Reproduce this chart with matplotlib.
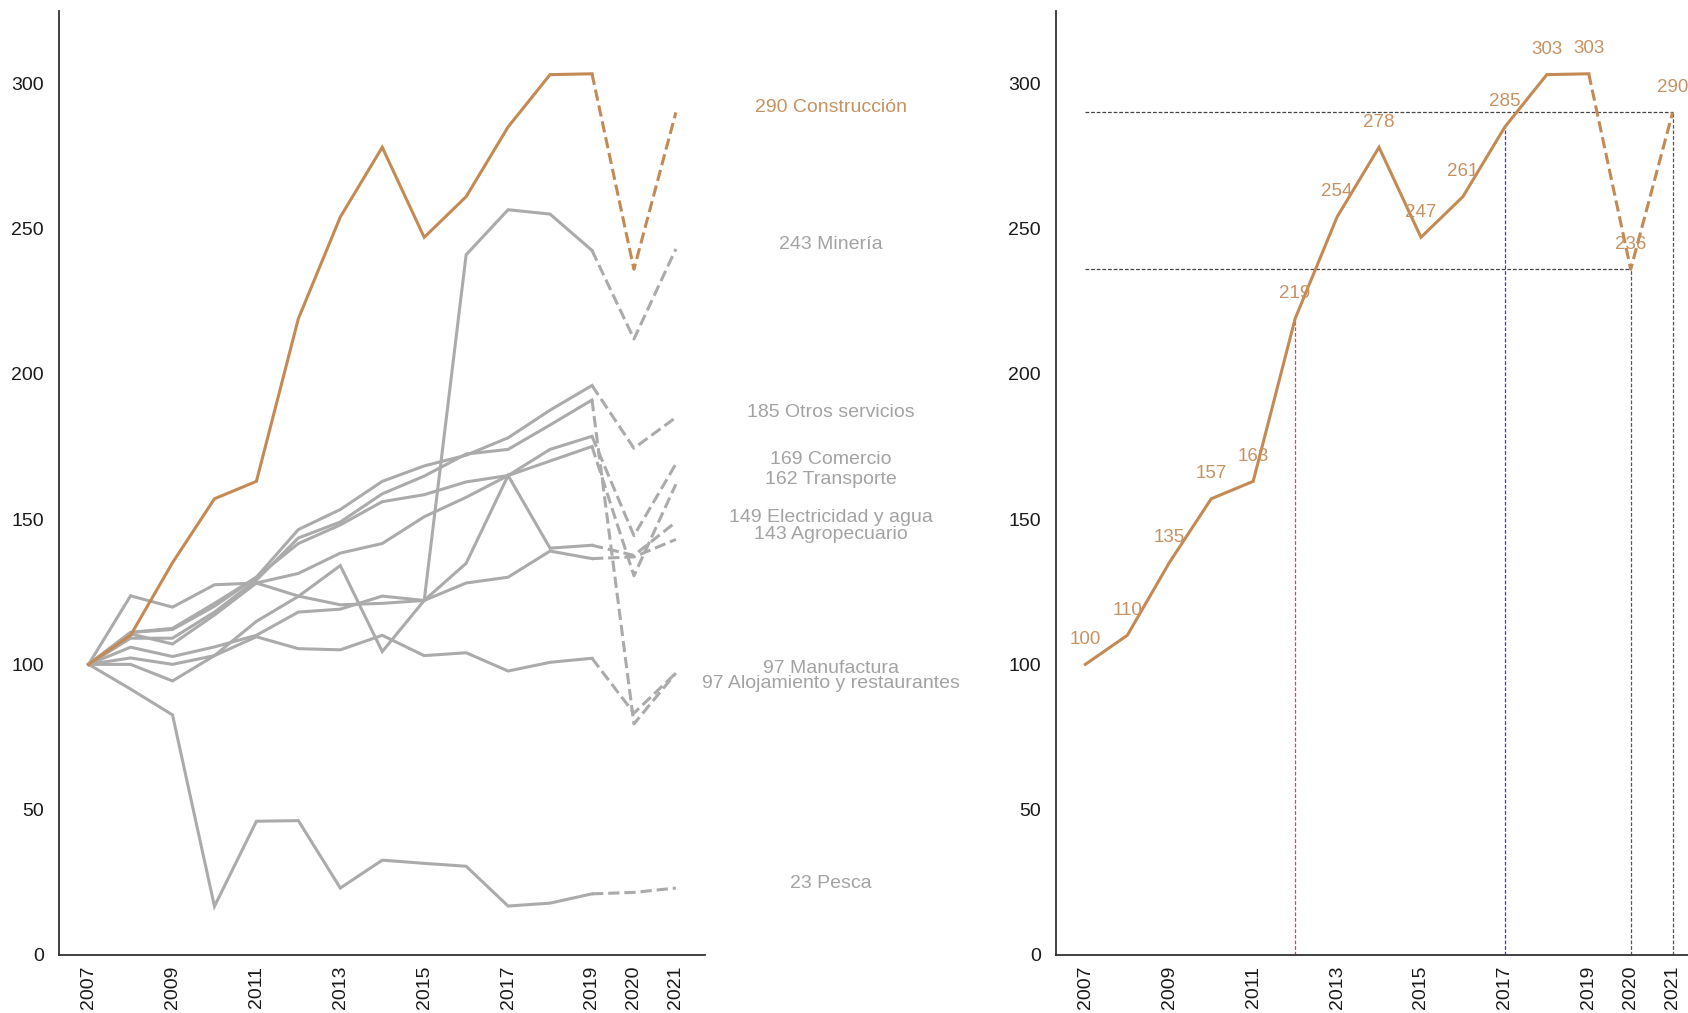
import matplotlib
matplotlib.use("Agg")
import matplotlib.pyplot as plt

plt.rcParams['font.family'] = ['Liberation Sans', 'DejaVu Sans']

# Datos: indice 2007 = 100
years = list(range(2007, 2022))
tick_years = [2007, 2009, 2011, 2013, 2015, 2017, 2019, 2020, 2021]

construccion = [100, 110, 135, 157, 163, 219, 254, 278, 247, 261, 285, 303, 303.3, 236, 290]
mineria = [100, 105.9, 102.7, 106, 110, 118, 119, 123.5, 122, 241, 256.5, 255, 242.5, 212, 243]
otros_servicios = [100, 111, 112.4, 121, 130, 146.4, 153.3, 163, 168.3, 172, 178, 187.5, 196, 174.4, 185]
comercio = [100, 110.5, 107, 117, 128, 131.3, 138.3, 141.6, 150.8, 157.5, 165, 174, 178.5, 144.3, 169]
transporte = [100, 111, 112, 120, 130, 141.6, 148, 156, 158.4, 162.8, 165, 170, 175, 130.5, 162]
electricidad = [100, 100, 94.3, 103, 114.8, 123.4, 134, 104.4, 122, 134.8, 165, 140, 141, 137.5, 149]
agropecuario = [100, 123.6, 119.7, 127.4, 128, 123.5, 120.5, 121, 122, 128, 130, 139, 136.4, 137, 143]
manufactura = [100, 102.2, 100, 103, 109.5, 105.4, 105, 110, 103, 104, 97.7, 100.7, 102.1, 83.2, 97]
alojamiento = [100, 109, 109, 118, 129, 143.5, 149, 158.7, 164.8, 172.4, 174, 182.4, 191, 79.5, 97]
pesca = [100, 91.5, 82.6, 16.7, 46, 46.2, 23, 32.6, 31.5, 30.5, 16.8, 17.8, 21, 21.5, 23]

grises = {
    "Minería": mineria,
    "Otros servicios": otros_servicios,
    "Comercio": comercio,
    "Transporte": transporte,
    "Electricidad y agua": electricidad,
    "Agropecuario": agropecuario,
    "Manufactura": manufactura,
    "Alojamiento y restaurantes": alojamiento,
    "Pesca": pesca,
}

NARANJA = '#c48a54'
NARANJA_TXT = '#c79262'
GRIS = '#ababab'
GRIS_TXT = '#a3a3a3'
corte = years.index(2019)  # a partir de 2019 la linea es discontinua

# desplazamiento manual de etiquetas que se pisan
ajuste_etiqueta = {"Alojamiento y restaurantes": -5}

fig = plt.figure(figsize=(16.88, 10.13), dpi=100)
ax1 = fig.add_axes([0.0351, 0.0574, 0.3827, 0.932])
ax2 = fig.add_axes([0.6256, 0.0574, 0.3827, 0.932])


def serie(ax, valores, color):
    ax.plot(years[:corte + 1], valores[:corte + 1], color=color, lw=2.2, solid_joinstyle='miter')
    ax.plot(years[corte:], valores[corte:], color=color, lw=2.2, ls='--')


for ax in (ax1, ax2):
    ax.set_xlim(2006.3, 2021.7)
    ax.set_ylim(0, 325)
    ax.set_yticks([0, 50, 100, 150, 200, 250, 300])
    ax.set_xticks(tick_years)
    ax.set_xticklabels([str(y) for y in tick_years], rotation=90)
    ax.tick_params(length=0, labelsize=14, colors='#1a1a1a')
    ax.tick_params(axis='y', pad=11)
    ax.tick_params(axis='x', pad=8)
    for lado in ('top', 'right'):
        ax.spines[lado].set_visible(False)
    for lado in ('left', 'bottom'):
        ax.spines[lado].set_color('#333333')
        ax.spines[lado].set_linewidth(1.3)

# Panel izquierdo: todos los sectores
for nombre, valores in grises.items():
    serie(ax1, valores, GRIS)
    ax1.text(2024.7, valores[-1] + ajuste_etiqueta.get(nombre, 0),
             f"{round(valores[-1])} {nombre}", ha='center', va='baseline',
             color=GRIS_TXT, fontsize=14, clip_on=False)

serie(ax1, construccion, NARANJA)
ax1.text(2024.7, construccion[-1], f"{round(construccion[-1])} Construcción",
         ha='center', va='baseline', color=NARANJA_TXT, fontsize=14, clip_on=False)

# Panel derecho: construccion con etiquetas y referencias
ref_years = [2012, 2017, 2020, 2021]
ref_colores = ['#e0405a', '#3a3ad0', '#555555', '#555555']
for y, c in zip(ref_years, ref_colores):
    ax2.vlines(y, 0, construccion[years.index(y)], colors=c, lw=0.9, ls=(0, (3, 1.5)))
for y in [2021, 2020]:
    ax2.hlines(construccion[years.index(y)], years[0], y, colors='#444444', lw=0.9, ls=(0, (3, 1.5)))

serie(ax2, construccion, NARANJA)
for x, v in zip(years, construccion):
    ax2.annotate(str(round(v)), (x, v), xytext=(0, 18), textcoords='offset points',
                 ha='center', va='center', color=NARANJA_TXT, fontsize=13.5,
                 annotation_clip=False)

fig.savefig('out.png', dpi=100)
